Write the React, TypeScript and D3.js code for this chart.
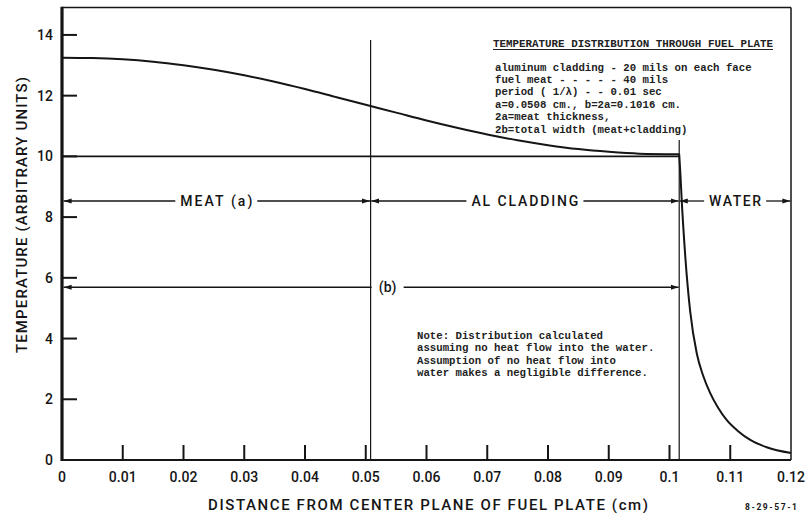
import React from 'react';
import * as d3 from 'd3';

// ---------- data ----------
const xTickValues = [0, 0.01, 0.02, 0.03, 0.04, 0.05, 0.06, 0.07, 0.08, 0.09, 0.1, 0.11, 0.12];
const xTickLabels = ['0', '0.01', '0.02', '0.03', '0.04', '0.05', '0.06', '0.07', '0.08', '0.09', '0.1', '0.11', '0.12'];
const yTickValues = [0, 2, 4, 6, 8, 10, 12, 14];
const yTickLabels = ['0', '2', '4', '6', '8', '10', '12', '14'];

// temperature through meat + cladding (cm, arbitrary units)
const plateX = [0, 0.005, 0.01, 0.015, 0.02, 0.025, 0.03, 0.035, 0.04, 0.045, 0.05, 0.055, 0.06, 0.065, 0.07, 0.075, 0.08, 0.085, 0.09, 0.095, 0.1016];
const plateT = [13.25, 13.24, 13.2, 13.12, 13.0, 12.85, 12.67, 12.46, 12.22, 11.96, 11.7, 11.44, 11.18, 10.94, 10.72, 10.53, 10.37, 10.24, 10.15, 10.09, 10.07];
// temperature in the water
const waterX = [0.1016, 0.1018, 0.102, 0.1026, 0.1034, 0.1045, 0.1055, 0.1067, 0.108, 0.1094, 0.1113, 0.1133, 0.116, 0.12];
const waterT = [10.07, 9.4, 8.6, 6.7, 4.9, 3.5, 2.8, 2.2, 1.72, 1.32, 0.95, 0.66, 0.42, 0.23];

const xMin = 0;
const xMax = 0.12;
const yMax = 14.9;
const meatEdge = 0.0508;      // a
const plateEdge = 0.1016;     // b
const referenceTemp = 10.0;
const meatLineTop = 13.83;
const plateLineTop = 10.54;
const regionRowT = 8.53;
const widthRowT = 5.69;

const regionLabels = ['MEAT (a)', 'AL CLADDING', 'WATER'];
const regionFrom = [0, 0.0508, 0.1016];
const regionTo = [0.0508, 0.1016, 0.12];
const widthLabel = '(b)';
const widthLabelX = 0.0536;

const boxTitle = 'TEMPERATURE DISTRIBUTION THROUGH FUEL PLATE';
const boxLines = [
  'aluminum cladding - 20 mils on each face',
  'fuel meat - - - - - 40 mils',
  'period ( 1/\u03bb) - - 0.01 sec',
  'a=0.0508 cm., b=2a=0.1016 cm.',
  '2a=meat thickness,',
  '2b=total width (meat+cladding)',
];
const noteLines = [
  'Note: Distribution calculated',
  'assuming no heat flow into the water.',
  'Assumption of no heat flow into',
  'water makes a negligible difference.',
];
const xTitle = 'DISTANCE FROM CENTER PLANE OF FUEL PLATE (cm)';
const yTitle = 'TEMPERATURE (ARBITRARY UNITS)';
const figId = '8-29-57-1';

// ---------- layout ----------
const W = 806;
const H = 515;
const left = 62;
const right = 791;
const top = 7.6;
const bottom = 460;
const ink = '#151515';
const sans = 'Roboto, "DejaVu Sans", "Liberation Sans", sans-serif';
const mono = '"Liberation Mono", "DejaVu Sans Mono", monospace';
const labelWeight = 500;

const labelWidths = [72, 107, 52];

export default function App() {
  const x = d3.scaleLinear().domain([xMin, xMax]).range([left, right]);
  const y = d3.scaleLinear().domain([0, yMax]).range([bottom, top]);

  const line = d3
    .line<[number, number]>()
    .x((d) => x(d[0]))
    .y((d) => y(d[1]))
    .curve(d3.curveMonotoneX);

  const plateData: [number, number][] = plateX.map((v, i) => [v, plateT[i]]);
  const waterData: [number, number][] = waterX.map((v, i) => [v, waterT[i]]);

  const arrowRow = (x1: number, x2: number, cx: number, w: number, yy: number, key: string) => {
    const gap = 5;
    return (
      <g key={key}>
        <line x1={x1} x2={cx - w / 2 - gap} y1={yy} y2={yy} stroke={ink} strokeWidth={1.3} markerStart="url(#arr)" />
        <line x1={cx + w / 2 + gap} x2={x2} y1={yy} y2={yy} stroke={ink} strokeWidth={1.3} markerEnd="url(#arr)" />
      </g>
    );
  };

  const rowY = y(regionRowT);
  const bRowY = y(widthRowT);
  const bCx = x(widthLabelX);

  return (
    <svg width={W} height={H} style={{ position: 'absolute', left: 0, top: 0, background: '#fff' }}>
      <defs>
        <marker id="arr" markerUnits="userSpaceOnUse" markerWidth={9} markerHeight={6} refX={8} refY={3} orient="auto-start-reverse">
          <path d="M0,0.4 L8,3 L0,5.6 Z" fill={ink} />
        </marker>
      </defs>
      <rect width={W} height={H} fill="#fff" />

      {/* frame */}
      <line x1={left} x2={right} y1={top} y2={top} stroke={ink} strokeWidth={1.5} />
      <line x1={right} x2={right} y1={top} y2={bottom} stroke={ink} strokeWidth={1.5} />
      <line x1={left} x2={right} y1={bottom} y2={bottom} stroke={ink} strokeWidth={2.2} />
      <line x1={left} x2={left} y1={top - 0.8} y2={bottom + 1.1} stroke={ink} strokeWidth={3.2} />

      {/* ticks */}
      {yTickValues.filter((v) => v > 0).map((v) => (
        <line key={'yt' + v} x1={left} x2={left + 15} y1={y(v)} y2={y(v)} stroke={ink} strokeWidth={2} />
      ))}
      {xTickValues.filter((v) => v > 0 && v < xMax).map((v) => (
        <line key={'xt' + v} x1={x(v)} x2={x(v)} y1={bottom} y2={bottom - 15} stroke={ink} strokeWidth={2} />
      ))}

      {/* tick labels */}
      {yTickValues.map((v, i) => (
        <text key={'yl' + v} x={53} y={y(v)} dy="0.36em" textAnchor="end" fontFamily={sans} fontWeight={labelWeight} fontSize={14} fill={ink}>
          {yTickLabels[i]}
        </text>
      ))}
      {xTickValues.map((v, i) => (
        <text key={'xl' + v} x={x(v)} y={482} textAnchor="middle" fontFamily={sans} fontWeight={labelWeight} fontSize={14} fill={ink}>
          {xTickLabels[i]}
        </text>
      ))}

      {/* axis titles */}
      <text x={208} y={510} fontFamily={sans} fontWeight={labelWeight} fontSize={15} fill={ink} textLength={440} lengthAdjust="spacing">
        {xTitle}
      </text>
      <text
        transform={`translate(27,${353}) rotate(-90)`}
        fontFamily={sans}
        fontWeight={labelWeight}
        fontSize={15}
        fill={ink}
        textLength={276}
        lengthAdjust="spacing"
      >
        {yTitle}
      </text>
      <text x={745} y={510} fontFamily={sans} fontSize={8.5} fontWeight="bold" fill={ink} textLength={52} lengthAdjust="spacing">
        {figId}
      </text>

      {/* reference lines */}
      <line x1={left} x2={x(plateEdge)} y1={y(referenceTemp)} y2={y(referenceTemp)} stroke={ink} strokeWidth={1.6} />
      <line x1={x(meatEdge)} x2={x(meatEdge)} y1={y(meatLineTop)} y2={bottom} stroke={ink} strokeWidth={1.2} />
      <line x1={x(plateEdge)} x2={x(plateEdge)} y1={y(plateLineTop)} y2={bottom} stroke={ink} strokeWidth={1.2} />

      {/* temperature curve */}
      <path d={line(plateData) || ''} fill="none" stroke={ink} strokeWidth={2} />
      <path d={line(waterData) || ''} fill="none" stroke={ink} strokeWidth={2} />

      {/* region arrows */}
      {regionLabels.map((lab, i) => {
        const x1 = x(regionFrom[i]);
        const x2 = x(regionTo[i]);
        const cx = (x1 + x2) / 2;
        return (
          <g key={'reg' + i}>
            {arrowRow(x1 + (i === 0 ? 1.6 : 0.6), x2 - 0.6, cx, labelWidths[i], rowY, 'ra' + i)}
            <text
              x={cx - labelWidths[i] / 2}
              y={rowY + 5}
              fontFamily={sans}
              fontWeight={labelWeight}
              fontSize={14}
              fill={ink}
              textLength={labelWidths[i]}
              lengthAdjust="spacing"
            >
              {lab}
            </text>
          </g>
        );
      })}
      {arrowRow(left + 1.6, x(plateEdge) - 0.6, bCx, 22, bRowY, 'brow')}
      <text x={bCx} y={bRowY + 5} textAnchor="middle" fontFamily={sans} fontWeight={labelWeight} fontSize={14} fill={ink}>
        {widthLabel}
      </text>

      {/* annotation box */}
      <text x={493} y={47} fontFamily={mono} fontSize={10.8} fontWeight="bold" fill="#222" textLength={280} lengthAdjust="spacingAndGlyphs">
        {boxTitle}
      </text>
      <line x1={493} x2={773} y1={49.5} y2={49.5} stroke="#222" strokeWidth={1} />
      {boxLines.map((t, i) => (
        <text key={'bl' + i} x={495} y={70.5 + i * 12.4} fontFamily={mono} fontSize={10.7} fontWeight="bold" fill="#222" xmlSpace="preserve">
          {t}
        </text>
      ))}

      {/* note */}
      {noteLines.map((t, i) => (
        <text key={'nl' + i} x={417} y={338.5 + i * 12.6} fontFamily={mono} fontSize={10.7} fontWeight="bold" fill="#222">
          {t}
        </text>
      ))}
    </svg>
  );
}
